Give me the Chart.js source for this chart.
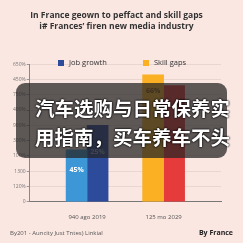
<!DOCTYPE html>
<html lang="en">
<head>
<meta charset="UTF-8">
<title>Job growth and skill gaps</title>
<script src="https://cdn.jsdelivr.net/npm/chart.js@4/dist/chart.umd.min.js"></script>
<style>
html, body {
	margin: 0;
	padding: 0;
	background: #fbe7e2;
}
#wrap {
	position: relative;
	width: 243px;
	height: 243px;
	overflow: hidden;
}
.legend {
	position: absolute;
	top: 57px;
	font: 7.5px "Open Sans", sans-serif;
	color: #333;
	white-space: nowrap;
}
.legend span {
	display: inline-block;
	width: 6px;
	height: 6px;
	margin-right: 5px;
	vertical-align: -1px;
}
#footLeft {
	position: absolute;
	left: 10px;
	top: 229px;
	font: 6px "Open Sans", sans-serif;
	color: #555;
}
#footRight {
	position: absolute;
	right: 10px;
	top: 228px;
	font: bold 7px "Open Sans", sans-serif;
	color: #222;
}
#banner {
	position: absolute;
	left: 16px;
	top: 83px;
	width: 211px;
	height: 75px;
	border-radius: 9px;
	background: rgba(38, 36, 36, 0.74);
}
#bannerText {
	position: absolute;
	left: 35px;
	top: 93px;
	font: bold 19.5px "Noto Sans CJK SC", sans-serif;
	line-height: 29px;
	color: #fff;
	white-space: nowrap;
	text-shadow: 0 0 2px #000, 0 0 2px #000;
}
</style>
</head>
<body>
<div id="wrap">
	<canvas id="chart" width="243" height="243"></canvas>
	<div class="legend" style="left:58px"><span style="background:#2d4b9b"></span>Job growth</div>
	<div class="legend" style="left:143px"><span style="background:#fbb024"></span>Skill gaps</div>
	<div id="banner"></div>
	<div id="bannerText">汽车选购与日常保养实<br>用指南，买车养车不头</div>
	<div id="footLeft">By201 - Auncity Just Tntes) Linkial</div>
	<div id="footRight">By France</div>
</div>

<script type="text/javascript">
// empty slots keep the two groups where the picture has them
const categories = ['', '940 ago 2019', '', '125 mo 2029', ''];
const firstBars = [null, 3.4, null, 8.3, null];
const secondBars = [null, 5.0, null, 7.6, null];
const yTickLabels = ['0', '120%', '1300', '100%', '300%', '900%', '400%', '750%', '450%', '650%'];
const firstBarLabels = [null, '45%', null, '66%', null];
const secondBarLabels = [null, '25%', null, null, null];

const firstColors = ['#3d96d6', '#3d96d6', '#fbb024', '#fbb024', '#fbb024'];
const secondColors = ['#2d4b9b', '#2d4b9b', '#e63b3b', '#e63b3b', '#e63b3b'];

const barText = {
	id: 'barText',
	afterDatasetsDraw(chart) {
		const ctx = chart.ctx;
		const lists = [firstBarLabels, secondBarLabels];
		ctx.save();
		ctx.font = 'bold 7px "Open Sans", sans-serif';
		ctx.textAlign = 'center';
		ctx.textBaseline = 'middle';
		chart.data.datasets.forEach((ds, di) => {
			const meta = chart.getDatasetMeta(di);
			meta.data.forEach((bar, i) => {
				const txt = lists[di][i];
				if (!txt) return;
				if (i === 3) {
					ctx.fillStyle = '#7a4a10';
					ctx.fillText(txt, bar.x, bar.y + 16);
				} else if (di === 1) {
					ctx.fillStyle = '#9aa3c4';
					ctx.fillText(txt, bar.x, bar.y + 27);
				} else {
					ctx.fillStyle = '#ffffff';
					ctx.fillText(txt, bar.x, bar.y + 20);
				}
			});
		});
		ctx.restore();
	}
};

new Chart(document.getElementById('chart'), {
	type: 'bar',
	data: {
		labels: categories,
		datasets: [
			{label: 'Job growth', data: firstBars, backgroundColor: firstColors},
			{label: 'Skill gaps', data: secondBars, backgroundColor: secondColors}
		]
	},
	plugins: [barText],
	options: {
		responsive: false,
		animation: false,
		layout: {padding: {left: 12, right: 22, top: 4, bottom: 18}},
		datasets: {bar: {barThickness: 21}},
		plugins: {
			title: {
				display: true,
				text: ['In France geown to peffact and skill gaps', 'i# Frances\u2019 firen new media industry'],
				color: '#333',
				font: {family: 'Open Sans', size: 8.5, weight: 'bold', lineHeight: 1.3},
				padding: {top: 6, bottom: 32}
			},
			legend: {display: false},
			tooltip: {enabled: false}
		},
		scales: {
			x: {
				ticks: {
					color: '#555',
					font: {family: 'Open Sans', size: 6},
					padding: 4,
					autoSkip: false,
					maxRotation: 0
				},
				grid: {display: false},
				border: {display: true, color: '#777'}
			},
			y: {
				min: 0,
				max: 9,
				ticks: {
					stepSize: 1,
					color: '#777',
					font: {family: 'Open Sans', size: 5},
					padding: 1,
					callback: (v) => yTickLabels[v]
				},
				grid: {color: '#ead6d1', tickLength: 3, tickColor: '#999'},
				border: {display: true, color: '#888'}
			}
		}
	}
});
</script>
</body>
</html>
